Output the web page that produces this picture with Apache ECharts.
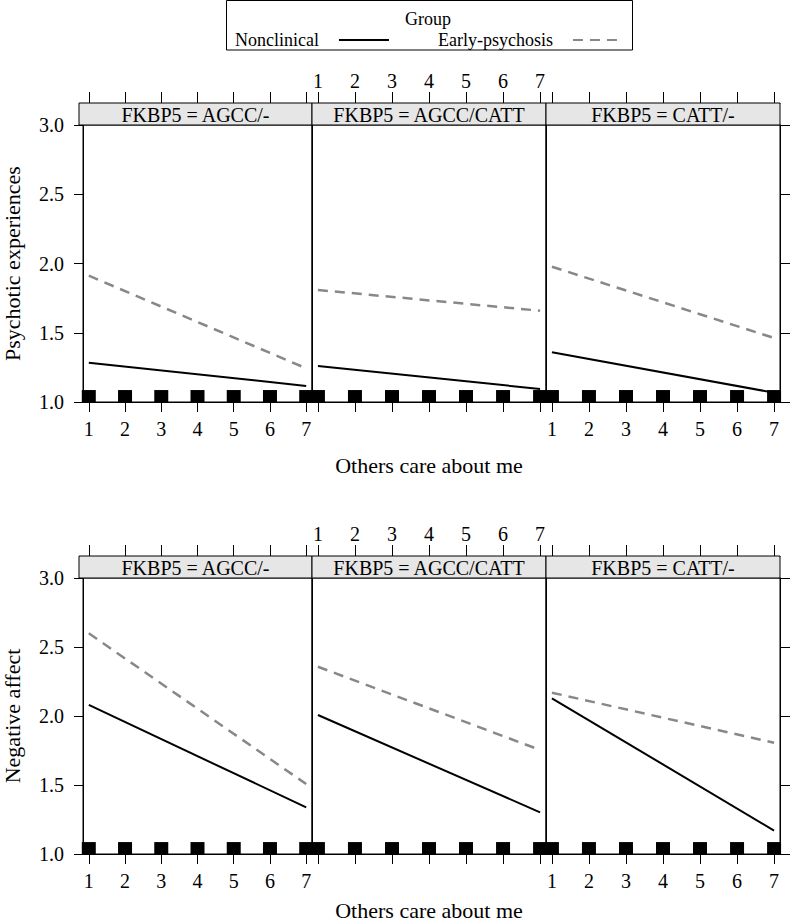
<!DOCTYPE html>
<html>
<head>
<meta charset="utf-8">
<script src="https://cdn.jsdelivr.net/npm/echarts@6/dist/echarts.min.js"></script>
<style>
html,body{margin:0;padding:0;background:#fff;}
#chart{width:790px;height:924px;}
</style>
</head>
<body>
<div id="chart"></div>
<script>
// ---------------- data ----------------
const groups = ['Nonclinical', 'Early-psychosis'];
const panels = ['FKBP5 = AGCC/-', 'FKBP5 = AGCC/CATT', 'FKBP5 = CATT/-'];
const xTicks = [1, 2, 3, 4, 5, 6, 7];
const yTicks = [1.0, 1.5, 2.0, 2.5, 3.0];
const careX = [1, 7];                 // "Others care about me" end points of each fitted line
const rugX = [1, 2, 3, 4, 5, 6, 7];   // observed values shown as rug squares
const yTitles = ['Psychotic experiences', 'Negative affect'];
const xTitle = 'Others care about me';
// Psychotic experiences: per panel [value at x=1, value at x=7]
const psychoticNonclinical = [[1.284, 1.116], [1.260, 1.094], [1.359, 1.067]];
const psychoticEarly       = [[1.912, 1.243], [1.809, 1.659], [1.977, 1.462]];
// Negative affect
const negativeNonclinical  = [[2.080, 1.338], [2.007, 1.302], [2.128, 1.170]];
const negativeEarly        = [[2.599, 1.507], [2.357, 1.754], [2.169, 1.806]];

// ---------------- layout / style ----------------
const FONT = 'Liberation Serif';
const lefts = [79, 312, 546];
const widths = [233, 234, 234];
const plotTop = [125, 578];
const plotH = [277, 276];
const stripH = 22;
const xGap = [52, 45];
const RUG_Y = 1.043;

const figures = [
  [psychoticNonclinical, psychoticEarly],
  [negativeNonclinical, negativeEarly]
];

const richLabel = (fmt) => ({
  formatter: v => '{t|' + fmt(v) + '}',
  rich: { t: { fontFamily: FONT, fontSize: 20, color: '#000' } }
});

const grid = [], xAxis = [], yAxis = [], series = [], graphic = [];

for (let f = 0; f < 2; f++) {
  for (let p = 0; p < 3; p++) {
    const gi = f * 3 + p;
    grid.push({
      left: lefts[p], top: plotTop[f], width: widths[p], height: plotH[f],
      show: true, borderColor: '#000', borderWidth: 1, backgroundColor: '#fff'
    });
    const xb = xAxis.length;
    xAxis.push({
      type: 'value', gridIndex: gi, min: 0.84, max: 7.16, position: 'bottom',
      axisLine: { show: true, onZero: false, lineStyle: { color: '#000', width: 1 } },
      axisTick: { show: true, length: 10, customValues: xTicks, lineStyle: { color: '#000', width: 1 } },
      axisLabel: Object.assign({ show: p !== 1, customValues: xTicks, margin: 17,
        fontFamily: FONT, fontSize: 20, color: '#000' }, richLabel(v => String(v))),
      splitLine: { show: false },
      name: p === 1 ? xTitle : '', nameLocation: 'middle', nameGap: xGap[f],
      nameTextStyle: { fontFamily: FONT, fontSize: 22, color: '#000' }
    });
    xAxis.push({
      type: 'value', gridIndex: gi, min: 0.84, max: 7.16, position: 'top', offset: stripH,
      axisLine: { show: true, onZero: false, lineStyle: { color: '#000', width: 1 } },
      axisTick: { show: true, length: 11, customValues: xTicks, lineStyle: { color: '#000', width: 1 } },
      axisLabel: Object.assign({ show: p === 1, customValues: xTicks, margin: 12,
        fontFamily: FONT, fontSize: 20, color: '#000' }, richLabel(v => String(v))),
      splitLine: { show: false }
    });
    const yl = yAxis.length;
    yAxis.push({
      type: 'value', gridIndex: gi, min: 1, max: 3, interval: 0.5, position: 'left',
      axisLine: { show: true, onZero: false, lineStyle: { color: '#000', width: 1 } },
      axisTick: { show: p === 0, length: 9, lineStyle: { color: '#000', width: 1 } },
      axisLabel: Object.assign({ show: p === 0, margin: 19, fontFamily: FONT, fontSize: 20, color: '#000' },
        richLabel(v => v.toFixed(1))),
      splitLine: { show: false },
      name: p === 0 ? yTitles[f] : '', nameLocation: 'middle', nameRotate: 90, nameGap: 60,
      nameTextStyle: { fontFamily: FONT, fontSize: 22, color: '#000' }
    });
    if (p === 2) {
      yAxis.push({
        type: 'value', gridIndex: gi, min: 1, max: 3, interval: 0.5, position: 'right',
        axisLine: { show: true, onZero: false, lineStyle: { color: '#000', width: 1 } },
        axisTick: { show: true, length: 10, lineStyle: { color: '#000', width: 1 } },
        axisLabel: { show: false }, splitLine: { show: false }
      });
    }
    // rug squares
    series.push({
      type: 'scatter', name: 'rug', xAxisIndex: xb, yAxisIndex: yl, silent: true,
      data: rugX.map(x => [x, RUG_Y]), symbol: 'rect', symbolSize: [14, 12],
      itemStyle: { color: '#000', opacity: 1 }, z: 2
    });
    // fitted lines
    series.push({
      type: 'line', name: groups[0], xAxisIndex: xb, yAxisIndex: yl, silent: true,
      data: careX.map((x, k) => [x, figures[f][0][p][k]]), symbol: 'none',
      lineStyle: { color: '#000', width: 2 }, itemStyle: { color: '#000' }, z: 3
    });
    series.push({
      type: 'line', name: groups[1], xAxisIndex: xb, yAxisIndex: yl, silent: true,
      data: careX.map((x, k) => [x, figures[f][1][p][k]]), symbol: 'none',
      lineStyle: { color: '#888', width: 2.5, type: [10, 7] }, itemStyle: { color: '#888' }, z: 3
    });
    // strip
    graphic.push({
      type: 'rect', shape: { x: lefts[p], y: plotTop[f] - stripH, width: widths[p], height: stripH },
      style: { fill: '#e6e6e6', stroke: '#000', lineWidth: 1 }, z: 10, silent: true
    });
    graphic.push({
      type: 'text', x: lefts[p] + widths[p] / 2, y: plotTop[f] - stripH / 2 + 1,
      style: { text: panels[p], font: '20px ' + FONT, fill: '#000', align: 'center', verticalAlign: 'middle' },
      z: 11, silent: true
    });
  }
}

// legend frame and title
graphic.push({
  type: 'rect', shape: { x: 226.5, y: 0.5, width: 406, height: 49.5 },
  style: { fill: 'none', stroke: '#000', lineWidth: 1 }, z: 11, silent: true
});
graphic.push({
  type: 'text', x: 428, y: 19,
  style: { text: 'Group', font: '18px ' + FONT, fill: '#000', align: 'center', verticalAlign: 'middle' },
  z: 11, silent: true
});

const chart = echarts.init(document.getElementById('chart'), null, { renderer: 'svg' });
chart.setOption({
  animation: false,
  backgroundColor: '#fff',
  textStyle: { fontFamily: FONT, color: '#000' },
  legend: {
    data: groups, left: 224, top: 0, orient: 'horizontal', align: 'right',
    padding: [31, 11, 1, 11], itemGap: 48, itemWidth: 50, itemHeight: 12,
    borderWidth: 0, selectedMode: false,
    itemStyle: { color: 'rgba(0,0,0,0)', borderWidth: 0, opacity: 0 },
    textStyle: { fontFamily: FONT, fontSize: 18, color: '#000', padding: [0, 15, 0, 0] }
  },
  grid, xAxis, yAxis, series, graphic
});
</script>
</body>
</html>
